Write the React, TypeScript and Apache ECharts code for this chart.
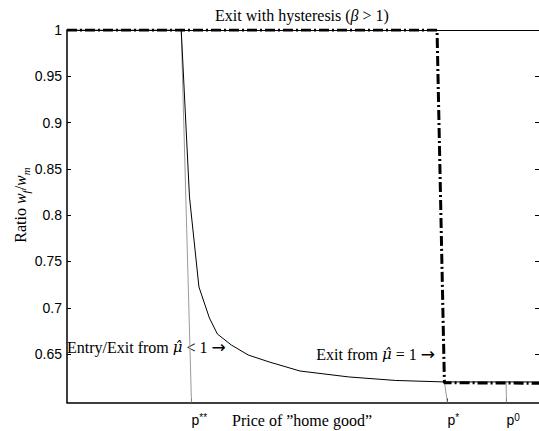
import React, { useEffect, useRef } from "react";
import * as echarts from "echarts";

const X_MIN = 0;
const X_MAX = 100;
const Y_MIN = 0.5977;
const Y_MAX = 1;

const yTickValues = [0.65, 0.7, 0.75, 0.8, 0.85, 0.9, 0.95, 1];
const yTickLabels = ["0.65", "0.7", "0.75", "0.8", "0.85", "0.9", "0.95", "1"];
const yRightTicks = [0.65, 0.7, 0.75, 0.8, 0.85, 0.9, 0.95];

const xTickValues = [26.37, 80.59, 93.1];
const xTickBase = ["p", "p", "p"];
const xTickSup = ["**", "*", "0"];

// Solid curve: Entry/Exit from mu-hat < 1
const entryExitX = [0, 24.2, 25.95, 27.95, 30.17, 31.86, 34.81, 38.4, 42.83, 49.37, 59.7, 69.62, 79.96, 100];
const entryExitY = [1, 1, 0.8197, 0.7225, 0.689, 0.6717, 0.6598, 0.649, 0.6415, 0.6317, 0.6253, 0.6215, 0.6199, 0.6199];

// Dash-dot curve: Exit from mu-hat = 1
const exitX = [0, 78.4, 79.96, 100];
const exitY = [1, 1, 0.6191, 0.6185];

// Grey guide lines from the curves down to the price ticks
const guideStartX = [24.2, 79.96, 93.04];
const guideStartY = [1, 0.6199, 0.619];
const guideEndX = [26.37, 80.59, 93.1];

const SERIF = "'Liberation Serif', 'Times New Roman', serif";
const MATH = "'DejaVu Serif', serif";
const ARROW = "'DejaVu Sans', sans-serif";
const SANS = "'Liberation Sans', Arial, Helvetica, sans-serif";

export default function App() {
  const ref = useRef<HTMLDivElement>(null);

  useEffect(() => {
    if (!ref.current) return;
    const chart = echarts.init(ref.current, undefined, { renderer: "svg" });

    const guideData: any[] = [];
    for (let i = 0; i < guideStartX.length; i++) {
      guideData.push([guideStartX[i], guideStartY[i]]);
      guideData.push([guideEndX[i], Y_MIN]);
      guideData.push([null, null]);
    }

    const annRich = {
      a: { fontFamily: SERIF, fontSize: 16, fill: "#000" },
      m: { fontFamily: MATH, fontSize: 15, fontStyle: "italic", fill: "#000" },
      r: { fontFamily: ARROW, fontSize: 17, fill: "#000" },
    };

    const option: any = {
      animation: false,
      backgroundColor: "#ffffff",
      grid: { left: 67, top: 30, right: -2, bottom: 28.5, containLabel: false },
      xAxis: [
        {
          type: "value",
          position: "bottom",
          min: X_MIN,
          max: X_MAX,
          axisLine: { show: true, onZero: false, lineStyle: { color: "#000", width: 1.5 } },
          axisTick: { show: true, inside: true, length: 4, customValues: xTickValues, lineStyle: { color: "#000" } },
          splitLine: { show: false },
          axisLabel: {
            show: true,
            customValues: xTickValues,
            align: "left",
            margin: 10,
            formatter: (v: number) => {
              let best = 0;
              for (let i = 1; i < xTickValues.length; i++) {
                if (Math.abs(xTickValues[i] - v) < Math.abs(xTickValues[best] - v)) best = i;
              }
              return `{p|${xTickBase[best]}}{s|${xTickSup[best]}}`;
            },
            rich: {
              p: { fontFamily: SANS, fontSize: 14, color: "#000", lineHeight: 14 },
              s: { fontFamily: SANS, fontSize: 10, color: "#000", lineHeight: 10, verticalAlign: "top" },
            },
          },
        },
        {
          type: "value",
          position: "top",
          min: X_MIN,
          max: X_MAX,
          axisLine: { show: true, onZero: false, lineStyle: { color: "#000", width: 1 } },
          axisTick: { show: false },
          axisLabel: { show: false },
          splitLine: { show: false },
        },
      ],
      yAxis: [
        {
          type: "value",
          position: "left",
          min: Y_MIN,
          max: Y_MAX,
          axisLine: { show: true, onZero: false, lineStyle: { color: "#000", width: 1.5 } },
          axisTick: { show: true, inside: true, length: 4, customValues: yTickValues, lineStyle: { color: "#000" } },
          splitLine: { show: false },
          axisLabel: {
            show: true,
            customValues: yTickValues,
            margin: 5,
            fontFamily: SANS,
            fontSize: 14,
            color: "#000",
            formatter: (v: number) => {
              let best = 0;
              for (let i = 1; i < yTickValues.length; i++) {
                if (Math.abs(yTickValues[i] - v) < Math.abs(yTickValues[best] - v)) best = i;
              }
              return yTickLabels[best];
            },
          },
        },
        {
          type: "value",
          position: "right",
          min: Y_MIN,
          max: Y_MAX,
          axisLine: { show: true, onZero: false, lineStyle: { color: "#000", width: 1 } },
          axisTick: { show: true, inside: true, length: 4, customValues: yRightTicks, lineStyle: { color: "#000" } },
          axisLabel: { show: false },
          splitLine: { show: false },
        },
      ],
      series: [
        {
          name: "guides",
          type: "line",
          data: guideData,
          connectNulls: false,
          symbol: "none",
          lineStyle: { color: "#9a9a9a", width: 1 },
          z: 1,
        },
        {
          name: "Entry/Exit",
          type: "line",
          data: entryExitX.map((x, i) => [x, entryExitY[i]]),
          symbol: "none",
          lineStyle: { color: "#000", width: 1 },
          z: 2,
        },
        {
          name: "Exit",
          type: "line",
          data: exitX.map((x, i) => [x, exitY[i]]),
          symbol: "none",
          lineStyle: { color: "#000", width: 3, type: [10, 3, 2, 3] },
          z: 3,
        },
      ],
      graphic: [
        {
          type: "text",
          x: 302,
          y: 15,
          style: {
            text: "{a|Exit with hysteresis (}{b|β}{a| > 1)}",
            align: "center",
            verticalAlign: "middle",
            rich: {
              a: { fontFamily: SERIF, fontSize: 16, fill: "#000" },
              b: { fontFamily: SERIF, fontSize: 16, fontStyle: "italic", fill: "#000" },
            },
          },
        },
        {
          type: "text",
          x: 302,
          y: 420,
          style: {
            text: "Price of \u201Dhome good\u201D",
            fontFamily: SERIF,
            fontSize: 16,
            fill: "#000",
            align: "center",
            verticalAlign: "middle",
          },
        },
        {
          type: "text",
          x: 20,
          y: 205,
          rotation: Math.PI / 2,
          style: {
            text: "{r|Ratio }{w|w}{u|f}{r|/}{w|w}{u|m}",
            align: "center",
            verticalAlign: "middle",
            rich: {
              r: { fontFamily: SERIF, fontSize: 16, fill: "#000", lineHeight: 22 },
              w: { fontFamily: SERIF, fontSize: 16, fontStyle: "italic", fill: "#000", lineHeight: 22 },
              u: { fontFamily: SERIF, fontSize: 11, fontStyle: "italic", fill: "#000", lineHeight: 12, verticalAlign: "bottom" },
            },
          },
        },
        {
          type: "text",
          x: 67,
          y: 347,
          style: {
            text: "{a|Entry/Exit from }{m|\u03BC\u0302}{a| < 1 }{r|\u2192}",
            align: "left",
            verticalAlign: "middle",
            rich: annRich,
          },
        },
        {
          type: "text",
          x: 435,
          y: 354,
          style: {
            text: "{a|Exit from }{m|\u03BC\u0302}{a| = 1 }{r|\u2192}",
            align: "right",
            verticalAlign: "middle",
            rich: annRich,
          },
        },
      ],
    };

    chart.setOption(option);
    return () => chart.dispose();
  }, []);

  return (
    <div
      ref={ref}
      style={{ position: "absolute", left: 0, top: 0, width: 539, height: 431, background: "#fff" }}
    />
  );
}
